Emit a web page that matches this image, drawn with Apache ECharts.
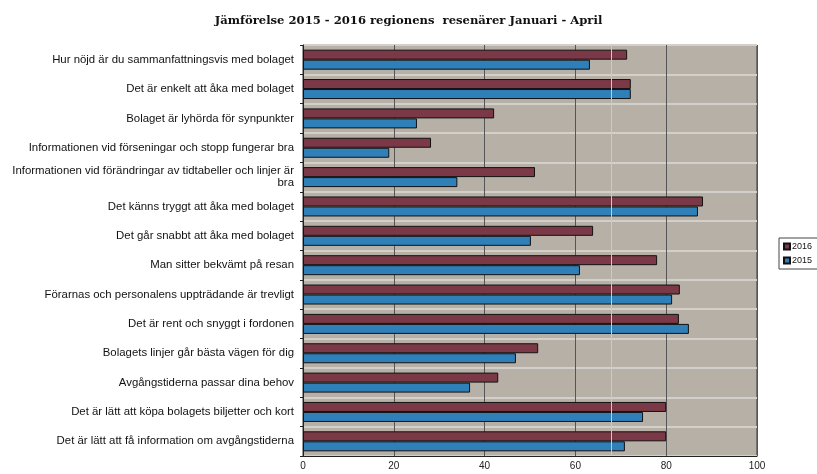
<!DOCTYPE html>
<html>
<head>
<meta charset="utf-8">
<script src="https://cdn.jsdelivr.net/npm/echarts@6/dist/echarts.min.js"></script>
<style>html,body{margin:0;padding:0;background:#fff;}#c{width:817px;height:474px;}</style>
</head>
<body>
<div id="c"></div>
<script>
const categories = [
  "Hur nöjd är du sammanfattningsvis med bolaget",
  "Det är enkelt att åka med bolaget",
  "Bolaget är lyhörda för synpunkter",
  "Informationen vid förseningar och stopp fungerar bra",
  "Informationen vid förändringar av tidtabeller och linjer är\nbra",
  "Det känns tryggt att åka med bolaget",
  "Det går snabbt att åka med bolaget",
  "Man sitter bekvämt på resan",
  "Förarnas och personalens uppträdande är trevligt",
  "Det är rent och snyggt i fordonen",
  "Bolagets linjer går bästa vägen för dig",
  "Avgångstiderna passar dina behov",
  "Det är lätt att köpa bolagets biljetter och kort",
  "Det är lätt att få information om avgångstiderna"
];
const values2016 = [71.4, 72.2, 42.1, 28.2, 51.1, 88.1, 63.9, 78.0, 83.0, 82.8, 51.8, 43.0, 80.0, 80.0];
const values2015 = [63.2, 72.2, 25.1, 19.0, 34.0, 87.0, 50.2, 61.0, 81.3, 85.0, 46.9, 36.8, 74.9, 70.9];
const xTicks = [0, 20, 40, 60, 80, 100];
const titleText = "Jämförelse 2015 - 2016 regionens  resenärer Januari - April";

const chart = echarts.init(document.getElementById('c'));
chart.setOption({
  animation: false,
  backgroundColor: '#ffffff',
  title: {
    text: titleText, left: 'center', top: 10,
    textStyle: {fontFamily: 'DejaVu Serif', fontWeight: 'bold', fontSize: 11.6, color: '#111'}
  },
  legend: {
    orient: 'vertical', left: 779, top: 238,
    data: ['2016', '2015'],
    itemWidth: 6, itemHeight: 6, itemGap: 5,
    icon: 'rect',
    borderColor: '#444', borderWidth: 1, padding: [4, 8, 4, 4],
    backgroundColor: '#fff',
    textStyle: {fontFamily: 'Liberation Sans', fontSize: 9, color: '#111', padding: [0,0,0,-3]}
  },
  grid: {left: 303, right: 60, top: 45, bottom: 18, show: true, backgroundColor: '#b7b0a7', borderColor: '#333', borderWidth: 1},
  xAxis: {
    type: 'value', min: 0, max: 100, interval: 20,
    axisLine: {show: true, lineStyle: {color: '#222'}},
    axisTick: {show: false},
    splitLine: {show: true, lineStyle: {color: '#555', width: 1}},
    axisLabel: {fontFamily: 'Liberation Sans', fontSize: 10, color: '#222', margin: 5,
      formatter: v => xTicks.indexOf(v) >= 0 ? String(v) : ''}
  },
  yAxis: {
    type: 'category', data: categories, inverse: true,
    axisLine: {show: true, lineStyle: {color: '#222'}},
    axisTick: {show: true, length: 3, lineStyle: {color: '#222'}},
    splitLine: {show: true, lineStyle: {color: '#d3cfca', width: 2}},
    axisLabel: {fontFamily: 'Liberation Sans', fontSize: 11.4, color: '#111', margin: 9, lineHeight: 12, align: 'right'}
  },
  series: [
    {
      name: '2016', type: 'bar', data: values2016,
      barWidth: 10, barGap: '0%',
      itemStyle: {color: '#7b3947', borderColor: '#111', borderWidth: 1},
      markLine: {
        silent: true, symbol: 'none', label: {show: false},
        lineStyle: {color: '#a9d7dc', width: 1, type: 'solid'},
        data: [{xAxis: 68}]
      }
    },
    {
      name: '2015', type: 'bar', data: values2015,
      barWidth: 10, barGap: '0%',
      itemStyle: {color: '#2f7fb9', borderColor: '#111', borderWidth: 1}
    }
  ]
});
</script>
</body>
</html>
